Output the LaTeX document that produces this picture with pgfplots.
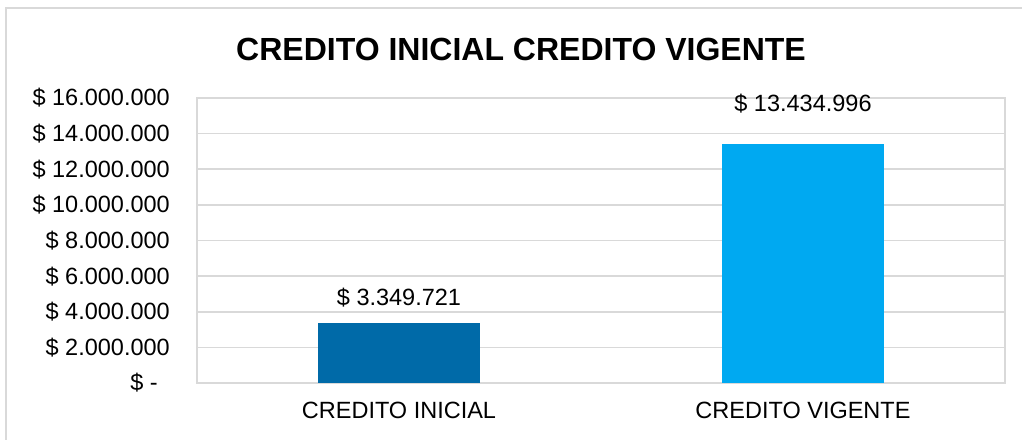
\documentclass[border=0pt]{standalone}
\usepackage{pgfplots}
\pgfplotsset{compat=1.18}
\usepackage{fontspec}
\setmainfont{Liberation Sans}
\definecolor{darkbar}{HTML}{006AA8}
\definecolor{lightbar}{HTML}{00A9F1}
\definecolor{gridgray}{HTML}{D9D9D9}
\newcommand{\lbl}{\fontsize{23.5bp}{28bp}\selectfont}
\begin{document}
\begin{tikzpicture}
\path[use as bounding box] (-197bp,-57bp) rectangle (825bp,383bp);
\draw[gridgray, line width=2bp] (-191bp,-57bp) -- (-191bp,374.5bp) -- (826bp,374.5bp);
\node[font=\bfseries\fontsize{32bp}{38bp}\selectfont] at (324bp,334bp) {CREDITO INICIAL CREDITO VIGENTE};
\begin{axis}[
    scale only axis,
    width=808bp, height=285bp,
    ymin=0, ymax=16000000,
    xmin=-0.5, xmax=1.5,
    ybar, bar width=162bp, bar shift=0pt,
    scaled y ticks=false,
    ytick={0,2000000,4000000,6000000,8000000,10000000,12000000,14000000,16000000},
    yticklabels={\$ -\rule{12bp}{0pt}, \$ 2.000.000, \$ 4.000.000, \$ 6.000.000, \$ 8.000.000,
                 \$ 10.000.000, \$ 12.000.000, \$ 14.000.000, \$ 16.000.000},
    xtick={0,1},
    xticklabels={CREDITO INICIAL, CREDITO VIGENTE},
    major tick length=0pt,
    ymajorgrids,
    grid style={gridgray, line width=1.5bp},
    axis line style={gridgray, line width=1.5bp},
    tick label style={font=\lbl, inner sep=0pt},
    yticklabel style={anchor=east, xshift=-27bp},
    xticklabel style={anchor=north, yshift=-19bp},
    nodes near coords style={font=\lbl, anchor=base, inner sep=0pt},
  ]
  \addplot[fill=darkbar, draw=none, nodes near coords={\$ 3.349.721},
    every node near coord/.append style={yshift=18bp}]
    coordinates {(0,3349721)};
  \addplot[fill=lightbar, draw=none, nodes near coords={\$ 13.434.996},
    every node near coord/.append style={yshift=32bp}]
    coordinates {(1,13434996)};
\end{axis}
\end{tikzpicture}
\end{document}
